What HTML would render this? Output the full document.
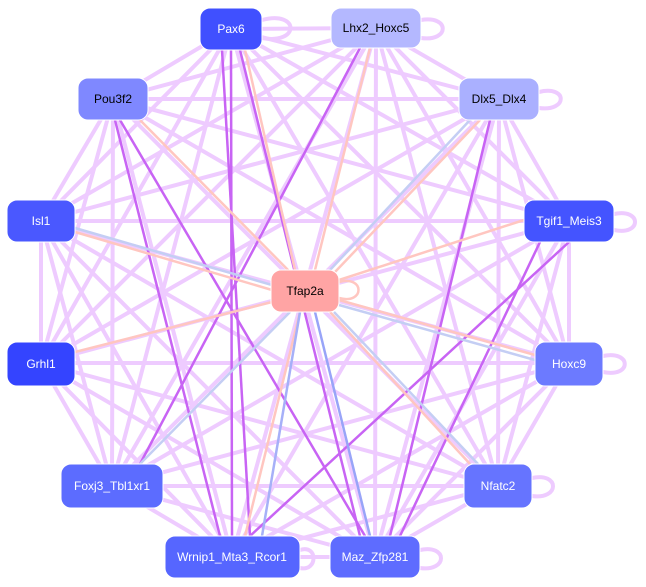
<!DOCTYPE html>
<html><head><meta charset="utf-8"><style>
html,body{margin:0;padding:0;background:#fff;width:646px;height:587px;overflow:hidden}
svg{display:block}
text{font-family:"Liberation Sans",sans-serif;font-size:12px;text-anchor:middle;dominant-baseline:central}
</style></head><body>
<svg width="646" height="587" viewBox="0 0 646 587" xmlns="http://www.w3.org/2000/svg">
<defs>
<marker id="ml" markerWidth="4" markerHeight="4" refX="3" refY="2" orient="auto" markerUnits="strokeWidth"><path d="M0,0L4,2L0,4z" fill="#eccaff"/></marker>
</defs>
<g stroke="#eecbff" stroke-width="4" fill="none" stroke-linecap="round">
<line x1="231" y1="29" x2="376" y2="28"/><line x1="231" y1="29" x2="113" y2="99"/><line x1="231" y1="29" x2="499" y2="99"/><line x1="231" y1="29" x2="41" y2="221"/><line x1="231" y1="29" x2="569" y2="221"/><line x1="231" y1="29" x2="41" y2="363"/><line x1="231" y1="29" x2="569" y2="363"/><line x1="231" y1="29" x2="112" y2="486"/><line x1="231" y1="29" x2="498" y2="486"/><line x1="231" y1="29" x2="375" y2="557"/>
<line x1="376" y1="28" x2="113" y2="99"/><line x1="376" y1="28" x2="499" y2="99"/><line x1="376" y1="28" x2="41" y2="221"/><line x1="376" y1="28" x2="569" y2="221"/><line x1="376" y1="28" x2="41" y2="363"/><line x1="376" y1="28" x2="569" y2="363"/><line x1="376" y1="28" x2="112" y2="486"/><line x1="376" y1="28" x2="498" y2="486"/><line x1="376" y1="28" x2="232" y2="557"/><line x1="376" y1="28" x2="375" y2="557"/>
<line x1="113" y1="99" x2="499" y2="99"/><line x1="113" y1="99" x2="41" y2="221"/><line x1="113" y1="99" x2="569" y2="221"/><line x1="113" y1="99" x2="41" y2="363"/><line x1="113" y1="99" x2="569" y2="363"/><line x1="113" y1="99" x2="112" y2="486"/><line x1="113" y1="99" x2="498" y2="486"/><line x1="113" y1="99" x2="232" y2="557"/>
<line x1="499" y1="99" x2="41" y2="221"/><line x1="499" y1="99" x2="569" y2="221"/><line x1="499" y1="99" x2="41" y2="363"/><line x1="499" y1="99" x2="569" y2="363"/><line x1="499" y1="99" x2="112" y2="486"/><line x1="499" y1="99" x2="498" y2="486"/><line x1="499" y1="99" x2="232" y2="557"/><line x1="499" y1="99" x2="375" y2="557"/>
<line x1="41" y1="221" x2="569" y2="221"/><line x1="41" y1="221" x2="41" y2="363"/><line x1="41" y1="221" x2="569" y2="363"/><line x1="41" y1="221" x2="112" y2="486"/><line x1="41" y1="221" x2="498" y2="486"/><line x1="41" y1="221" x2="232" y2="557"/><line x1="41" y1="221" x2="375" y2="557"/>
<line x1="569" y1="221" x2="41" y2="363"/><line x1="569" y1="221" x2="569" y2="363"/><line x1="569" y1="221" x2="112" y2="486"/><line x1="569" y1="221" x2="498" y2="486"/><line x1="569" y1="221" x2="375" y2="557"/>
<line x1="41" y1="363" x2="569" y2="363"/><line x1="41" y1="363" x2="112" y2="486"/><line x1="41" y1="363" x2="498" y2="486"/><line x1="41" y1="363" x2="232" y2="557"/><line x1="41" y1="363" x2="375" y2="557"/>
<line x1="569" y1="363" x2="112" y2="486"/><line x1="569" y1="363" x2="498" y2="486"/><line x1="569" y1="363" x2="232" y2="557"/><line x1="569" y1="363" x2="375" y2="557"/>
<line x1="112" y1="486" x2="498" y2="486"/><line x1="112" y1="486" x2="232" y2="557"/><line x1="112" y1="486" x2="375" y2="557"/>
<line x1="498" y1="486" x2="232" y2="557"/><line x1="498" y1="486" x2="375" y2="557"/><line x1="232" y1="557" x2="375" y2="557"/>
<path d="M262,20 C300,10 300,45 262,38"/><path d="M421,20 C450,15 450,42 421,38"/><path d="M539,92 C568,85 568,112 539,108"/><path d="M614,214 C642,208 642,236 614,230"/><path d="M603,356 C632,350 632,378 603,372"/><path d="M532,478 C560,472 560,500 532,496"/><path d="M420,550 C448,544 448,572 420,568"/><path d="M300,550 C318,544 318,572 300,568"/>
</g>
<g stroke="#c864f4" stroke-width="2.5" fill="none">
<line x1="231" y1="50" x2="232" y2="536"/><line x1="222" y1="50" x2="250" y2="536"/><line x1="240" y1="50" x2="360" y2="536"/>
<line x1="120" y1="120" x2="365" y2="536"/><line x1="115" y1="120" x2="220" y2="536"/>
<line x1="569" y1="242" x2="250" y2="536"/><line x1="490" y1="120" x2="390" y2="536"/>
<line x1="360" y1="48" x2="140" y2="464"/><line x1="540" y1="242" x2="400" y2="536"/>
</g>
<g stroke-width="2.5" fill="none">
<line x1="140" y1="120" x2="290" y2="272" stroke="#ffc6c0"/>
<line x1="75" y1="228" x2="272" y2="285" stroke="#c4cef4"/>
<line x1="75" y1="232" x2="272" y2="290" stroke="#ffc6c0"/>
<line x1="75" y1="352" x2="272" y2="302" stroke="#ffc6c0"/>
<line x1="140" y1="464" x2="290" y2="312" stroke="#c4cef4"/>
<line x1="245" y1="536" x2="300" y2="312" stroke="#ffc6c0"/>
<line x1="262" y1="536" x2="300" y2="312" stroke="#a6b0f8"/>
<line x1="370" y1="536" x2="315" y2="312" stroke="#98a4f8"/>
<line x1="470" y1="464" x2="330" y2="312" stroke="#ffc6c0"/>
<line x1="478" y1="464" x2="334" y2="312" stroke="#c4cef4"/>
<line x1="245" y1="50" x2="295" y2="270" stroke="#ffc6c0"/>
<line x1="370" y1="48" x2="315" y2="270" stroke="#ffc6c0"/>
<line x1="470" y1="120" x2="330" y2="270" stroke="#c4cef4"/>
<line x1="480" y1="120" x2="335" y2="272" stroke="#ffc6c0"/>
<line x1="339" y1="280" x2="524" y2="220" stroke="#ffc6c0"/>
<line x1="339" y1="300" x2="535" y2="355" stroke="#ffc6c0"/>
<line x1="339" y1="305" x2="535" y2="360" stroke="#c4cef4"/>
<path d="M339,282 C365,275 365,305 339,298" stroke="#ffc6c0"/>
</g>
<g stroke="#fff" stroke-width="1">
<rect x="200" y="8" width="62" height="42" rx="10" fill="#4050ff"/>
<rect x="331" y="8" width="90" height="40" rx="10" fill="#b4b8ff"/>
<rect x="78" y="78" width="70" height="42" rx="10" fill="#7f88ff"/>
<rect x="459" y="78" width="80" height="42" rx="10" fill="#aab0ff"/>
<rect x="7" y="200" width="68" height="42" rx="10" fill="#4a58ff"/>
<rect x="524" y="200" width="90" height="42" rx="10" fill="#4454ff"/>
<rect x="271" y="270" width="68" height="42" rx="10" fill="#ffa4a4"/>
<rect x="7" y="342" width="68" height="44" rx="10" fill="#3444ff"/>
<rect x="535" y="342" width="68" height="44" rx="10" fill="#6c7aff"/>
<rect x="61" y="464" width="102" height="44" rx="10" fill="#5c6cff"/>
<rect x="464" y="464" width="68" height="44" rx="10" fill="#6674ff"/>
<rect x="165" y="536" width="135" height="42" rx="10" fill="#5666ff"/>
<rect x="330" y="536" width="90" height="42" rx="10" fill="#5e6cff"/>
</g>
<g>
<text x="231" y="29" fill="#fff">Pax6</text>
<text x="376" y="28" fill="#000">Lhx2_Hoxc5</text>
<text x="113" y="99" fill="#000">Pou3f2</text>
<text x="499" y="99" fill="#000">Dlx5_Dlx4</text>
<text x="41" y="221" fill="#fff">Isl1</text>
<text x="569" y="221" fill="#fff">Tgif1_Meis3</text>
<text x="305" y="291" fill="#000">Tfap2a</text>
<text x="41" y="364" fill="#fff">Grhl1</text>
<text x="569" y="364" fill="#fff">Hoxc9</text>
<text x="112" y="486" fill="#fff">Foxj3_Tbl1xr1</text>
<text x="498" y="486" fill="#fff">Nfatc2</text>
<text x="232" y="557" fill="#fff">Wrnip1_Mta3_Rcor1</text>
<text x="375" y="557" fill="#fff">Maz_Zfp281</text>
</g>
</svg>
</body></html>
